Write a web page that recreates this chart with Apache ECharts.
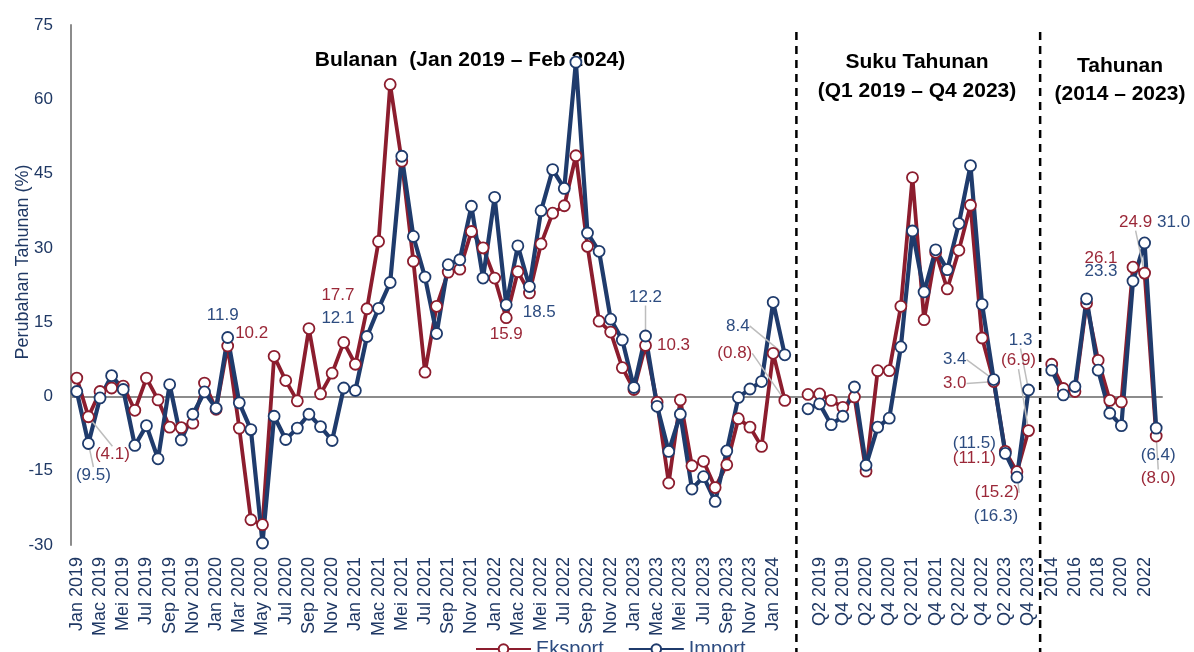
<!DOCTYPE html>
<html><head><meta charset="utf-8">
<script src="https://cdn.jsdelivr.net/npm/echarts@6/dist/echarts.min.js"></script>
<style>html,body{margin:0;padding:0;background:#fff}#c{width:1194px;height:652px}</style>
</head><body><div id="c"></div>
<script>
// ---------- data ----------
const monthLabels = [
 'Jan 2019','Feb 2019','Mac 2019','Apr 2019','Mei 2019','Jun 2019','Jul 2019','Ogo 2019','Sep 2019','Okt 2019','Nov 2019','Dis 2019',
 'Jan 2020','Feb 2020','Mar 2020','Apr 2020','May 2020','Jun 2020','Jul 2020','Aug 2020','Sep 2020','Oct 2020','Nov 2020','Dec 2020',
 'Jan 2021','Feb 2021','Mac 2021','Apr 2021','Mei 2021','Jun 2021','Jul 2021','Ogo 2021','Sep 2021','Okt 2021','Nov 2021','Dis 2021',
 'Jan 2022','Feb 2022','Mac 2022','Apr 2022','Mei 2022','Jun 2022','Jul 2022','Ogo 2022','Sep 2022','Okt 2022','Nov 2022','Dis 2022',
 'Jan 2023','Feb 2023','Mac 2023','Apr 2023','Mei 2023','Jun 2023','Jul 2023','Ogo 2023','Sep 2023','Okt 2023','Nov 2023','Dis 2023',
 'Jan 2024','Feb 2024'];
const quarterLabels = ['Q1 2019','Q2 2019','Q3 2019','Q4 2019','Q1 2020','Q2 2020','Q3 2020','Q4 2020',
 'Q1 2021','Q2 2021','Q3 2021','Q4 2021','Q1 2022','Q2 2022','Q3 2022','Q4 2022','Q1 2023','Q2 2023','Q3 2023','Q4 2023'];
const yearLabels = ['2014','2015','2016','2017','2018','2019','2020','2021','2022','2023'];

const eksportMonthly = [3.7,-4.1,1.0,1.7,2.1,-2.8,3.7,-0.7,-6.2,-6.3,-5.4,2.7,
 -2.6,10.2,-6.4,-24.9,-25.9,8.1,3.2,-0.9,13.7,0.5,4.7,10.9,
 6.5,17.7,31.3,63.0,47.5,27.3,4.9,18.2,25.1,25.7,33.3,30.0,
 23.9,15.9,25.2,20.9,30.8,37.0,38.5,48.6,30.3,15.2,13.0,5.8,
 1.4,10.3,-1.2,-17.5,-0.7,-14.0,-13.1,-18.4,-13.8,-4.5,-6.2,-10.1,
 8.7,-0.8];
const importMonthly = [1.0,-9.5,-0.3,4.2,1.4,-9.9,-5.9,-12.6,2.4,-8.8,-3.6,0.9,
 -2.4,11.9,-1.3,-6.7,-29.6,-4.0,-8.7,-6.4,-3.6,-6.1,-8.9,1.7,
 1.2,12.1,17.8,23.0,48.5,32.3,24.1,12.7,26.6,27.6,38.4,23.9,
 40.2,18.5,30.4,22.2,37.5,45.8,42.0,67.5,33.0,29.3,15.6,11.4,
 1.8,12.2,-2.0,-11.1,-3.6,-18.7,-16.2,-21.2,-11.0,-0.2,1.5,3.0,
 19.0,8.4];
const eksportQuarterly = [0.4,0.5,-0.8,-2.2,-0.1,-15.1,5.2,5.2,18.2,44.2,15.5,29.1,21.7,29.5,38.6,11.8,3.0,-11.1,-15.2,-6.9];
const importQuarterly  = [-2.5,-1.5,-5.7,-4.0,1.9,-13.9,-6.2,-4.4,10.0,33.4,21.1,29.6,25.6,34.9,46.6,18.6,3.4,-11.5,-16.3,1.3];
const eksportAnnual = [6.5,1.6,1.0,18.8,7.3,-0.8,-1.1,26.1,24.9,-8.0];
const importAnnual  = [5.3,0.3,2.0,19.7,5.3,-3.4,-5.9,23.3,31.0,-6.4];

const yMin = -30, yMax = 75, yStep = 15;

// ---------- build ----------
const categories = [...monthLabels, '', ...quarterLabels, ' ', ...yearLabels];
const gap1 = monthLabels.length;                       // blank between monthly & quarterly
const gap2 = gap1 + 1 + quarterLabels.length;          // blank between quarterly & annual
const qStart = gap1 + 1, aStart = gap2 + 1;

const RED = '#8C1D2E', BLUE = '#1F3B6C';
const RED_TXT = '#9B2838', BLUE_TXT = '#2D4C80', AXIS_TXT = '#1F3864';
const FONT = '"Liberation Sans", Arial, sans-serif';

// label placement styles (offset from point centre, leader line flag)
const redLabelStyle = {
  1: [24, 38, true], 13: [24, -13], 25: [-29, -13], 37: [0, 17], 49: [28, 0], 61: [-50, -47, true],
  [qStart+16]: [-39, 2, true], [qStart+17]: [-31, 7], [qStart+18]: [-20, 21, true], [qStart+19]: [-10, -70, true],
  [aStart+7]: [-32, -9], [aStart+8]: [-9, -51, true], [aStart+9]: [2, 42, true]
};
const blueLabelStyle = {
  1: [5, 32, true], 13: [-5, -22], 25: [-29, -18], 37: [33, 8], 49: [0, -39, true], 61: [-47, -29, true],
  [qStart+16]: [-39, -20, true], [qStart+17]: [-31, -10], [qStart+18]: [-21, 39], [qStart+19]: [-8, -50, true],
  [aStart+7]: [-32, -10], [aStart+8]: [29, -21], [aStart+9]: [2, 27]
};

function fmt(v) { return v < 0 ? '(' + Math.abs(v).toFixed(1) + ')' : v.toFixed(1); }
function buildData(m, q, a, styles, txtColor) {
  const raw = [...m, null, ...q, null, ...a];
  return raw.map((v, i) => {
    const s = styles[i];
    if (v == null || !s) return v;
    return {
      value: v,
      label: { show: true, position: 'inside', offset: [s[0], s[1]], color: txtColor, fontSize: 17, fontFamily: FONT },
      labelLine: { show: !!s[2], lineStyle: { color: '#BDBDBD', width: 1.5 } }
    };
  });
}

const chart = echarts.init(document.getElementById('c'), null, { renderer: 'canvas' });
function mkSeries(name, data, color, w) {
  return {
    name, type: 'line', data, xAxisIndex: 0,
    connectNulls: false, showAllSymbol: true, symbol: 'circle', symbolSize: 11,
    lineStyle: { color, width: w },
    itemStyle: { color: '#fff', borderColor: color, borderWidth: 1.8 },
    emphasis: { disabled: true },
    label: { show: false, formatter: p => fmt(p.value) },
    labelLine: { show: false },
    animation: false
  };
}

chart.setOption({
  animation: false,
  grid: { left: 71, right: 32, top: 25, bottom: 107 },
  xAxis: [{
    type: 'category', data: categories, boundaryGap: true,
    axisLine: { show: false, onZero: false }, axisTick: { show: false },
    axisLabel: { rotate: 90, interval: 1, fontSize: 18, color: AXIS_TXT, fontFamily: FONT, margin: 12 },
    splitLine: { show: false }
  }, {
    type: 'category', data: categories, boundaryGap: true, position: 'bottom',
    axisLine: { show: true, onZero: true, lineStyle: { color: '#8C8C8C', width: 2 } },
    axisTick: { show: false }, axisLabel: { show: false }, splitLine: { show: false }
  }],
  yAxis: {
    type: 'value', min: yMin, max: yMax, interval: yStep,
    axisLine: { show: true, lineStyle: { color: '#8C8C8C', width: 2 } },
    axisTick: { show: false }, splitLine: { show: false },
    axisLabel: { fontSize: 17, color: AXIS_TXT, fontFamily: FONT, margin: 18 }
  },
  legend: {
    data: ['Eksport', 'Import'], left: 470, top: 634, itemWidth: 55, itemHeight: 12, itemGap: 24,
    textStyle: { fontSize: 20, color: BLUE_TXT, fontFamily: FONT }
  },
  series: [
    mkSeries('Eksport', buildData(eksportMonthly, eksportQuarterly, eksportAnnual, redLabelStyle, RED_TXT), RED, 3.8),
    mkSeries('Import', buildData(importMonthly, importQuarterly, importAnnual, blueLabelStyle, BLUE_TXT), BLUE, 4.2)
  ]
});

// annotations positioned through the axis scale
const xg1 = chart.convertToPixel({ xAxisIndex: 0 }, gap1);
const xg2 = chart.convertToPixel({ xAxisIndex: 0 }, gap2);
const titleFont = 'bold 21px ' + FONT;
const dash = { stroke: '#000', lineWidth: 2.5, lineDash: [8, 6] };
chart.setOption({
  graphic: [
    { type: 'line', shape: { x1: xg1, y1: 32, x2: xg1, y2: 652 }, style: dash, silent: true },
    { type: 'line', shape: { x1: xg2, y1: 32, x2: xg2, y2: 652 }, style: dash, silent: true },
    { type: 'text', x: 470, y: 60, style: { text: 'Bulanan  (Jan 2019 – Feb 2024)', font: titleFont, fill: '#000', align: 'center', verticalAlign: 'middle' } },
    { type: 'text', x: 917, y: 62, style: { text: 'Suku Tahunan', font: titleFont, fill: '#000', align: 'center', verticalAlign: 'middle' } },
    { type: 'text', x: 917, y: 91, style: { text: '(Q1 2019 – Q4 2023)', font: titleFont, fill: '#000', align: 'center', verticalAlign: 'middle' } },
    { type: 'text', x: 1120, y: 66, style: { text: 'Tahunan', font: titleFont, fill: '#000', align: 'center', verticalAlign: 'middle' } },
    { type: 'text', x: 1120, y: 94, style: { text: '(2014 – 2023)', font: titleFont, fill: '#000', align: 'center', verticalAlign: 'middle' } },
    { type: 'text', x: 23, y: 262, rotation: Math.PI / 2, style: { text: 'Perubahan Tahunan (%)', font: '18px ' + FONT, fill: AXIS_TXT, align: 'center', verticalAlign: 'middle' } }
  ]
});
</script>
</body></html>
